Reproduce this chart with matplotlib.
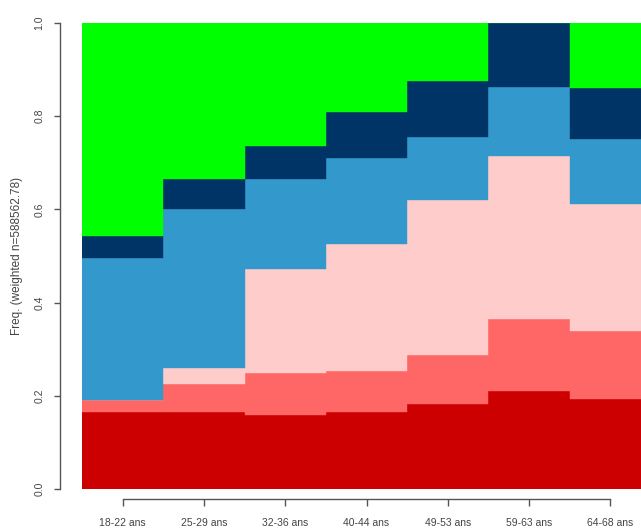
import matplotlib
matplotlib.use("Agg")
import matplotlib.pyplot as plt
import numpy as np

categories = ["18-22 ans", "25-29 ans", "32-36 ans", "40-44 ans", "49-53 ans", "59-63 ans", "64-68 ans"]
series_names = ["Modalité 1", "Modalité 2", "Modalité 3", "Modalité 4", "Modalité 5", "Modalité 6"]
s1 = [0.165, 0.166, 0.159, 0.165, 0.182, 0.210, 0.193]
s2 = [0.027, 0.060, 0.089, 0.088, 0.106, 0.155, 0.146]
s3 = [0.000, 0.034, 0.225, 0.273, 0.333, 0.350, 0.273]
s4 = [0.304, 0.340, 0.192, 0.184, 0.134, 0.148, 0.139]
s5 = [0.047, 0.065, 0.071, 0.100, 0.121, 0.137, 0.110]
s6 = [0.457, 0.335, 0.264, 0.190, 0.124, 0.000, 0.139]
colors = ["#CC0000", "#FF6666", "#FFCCCC", "#3399CC", "#003366", "#00FF00"]
ylabel = "Freq. (weighted n=588562.78)"

plt.rcParams['font.family'] = ['Liberation Sans', 'DejaVu Sans']

W, H = 641, 530
fig = plt.figure(figsize=(W / 100, H / 100), dpi=100)
left_px, right_px = 82, 651
top_px, bot_px = 23, 489
ax = fig.add_axes([left_px / W, (H - bot_px) / H, (right_px - left_px) / W, (bot_px - top_px) / H])

x = np.arange(len(categories))
bottom = np.zeros(len(categories))
for name, vals, c in zip(series_names, [s1, s2, s3, s4, s5, s6], colors):
    v = np.array(vals)
    ax.bar(x, v, width=1.0, bottom=bottom, color=c, edgecolor=c, linewidth=0.3, label=name)
    bottom += v

ax.set_xlim(-0.5, len(categories) - 0.5)
ax.set_ylim(0, 1)

for s in ["top", "right"]:
    ax.spines[s].set_visible(False)
axcol = "#555555"
ax.spines["left"].set_position(("outward", 22 * 0.72))
ax.spines["left"].set_bounds(0, 1)
ax.spines["bottom"].set_position(("outward", 10 * 0.72))
ax.spines["bottom"].set_bounds(0, len(categories) - 1)
for s in ["left", "bottom"]:
    ax.spines[s].set_color(axcol)
    ax.spines[s].set_linewidth(1.0)

ax.set_yticks([0, 0.2, 0.4, 0.6, 0.8, 1.0])
ax.set_yticklabels(["0.0", "0.2", "0.4", "0.6", "0.8", "1.0"], rotation=90, va="center",
                   fontsize=7.5, color="#444444")
ax.set_xticks(x)
ax.set_xticklabels(categories, fontsize=7.5, color="#444444")
ax.tick_params(axis="y", length=6 * 0.72, width=1.0, color=axcol, pad=7)
ax.tick_params(axis="x", length=7 * 0.72, width=1.0, color=axcol, pad=9)
ax.set_ylabel(ylabel, fontsize=8.5, color="#444444", labelpad=8)

fig.savefig("out.png", dpi=100)
